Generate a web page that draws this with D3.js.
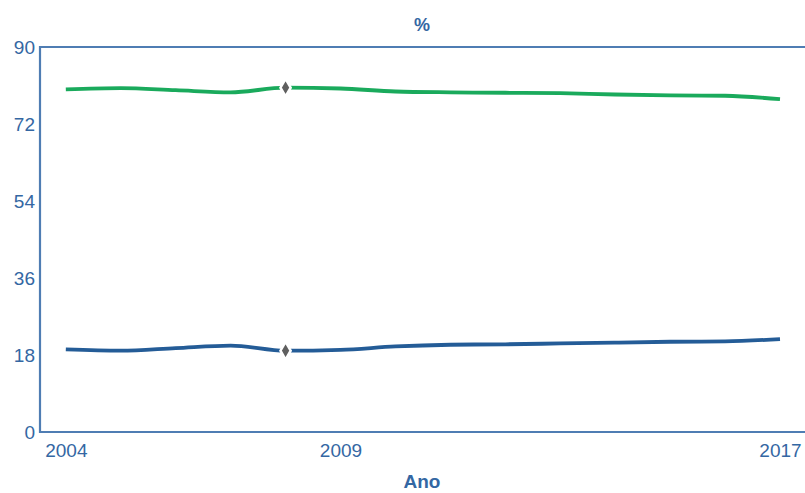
<!DOCTYPE html>
<html>
<head>
<meta charset="utf-8">
<script src="https://cdn.jsdelivr.net/npm/d3@7"></script>
<style>
  html, body { margin: 0; padding: 0; background: #fff; }
  svg { display: block; font-family: "Liberation Sans", Arial, sans-serif; }
</style>
</head>
<body>
<svg id="chart" width="805" height="493"></svg>
<script>
const years = [2004, 2005, 2006, 2007, 2008, 2009, 2010, 2011, 2012, 2013, 2014, 2015, 2016, 2017];
const greenValues = [80.1, 80.4, 79.9, 79.4, 80.5, 80.3, 79.6, 79.4, 79.3, 79.2, 78.9, 78.7, 78.6, 77.8];
const blueValues  = [19.3, 19.0, 19.6, 20.2, 19.0, 19.2, 20.0, 20.4, 20.5, 20.7, 20.9, 21.1, 21.2, 21.7];
const markerYear = 2008;
const xTickLabels = [2004, 2009, 2017];
const yTickLabels = [0, 18, 36, 54, 72, 90];

const svg = d3.select("#chart");
const margin = { left: 40, top: 47, right: 0, bottom: 61 };
const W = 805, H = 493;
const axisColor = "#4f7db3";
const textColor = "#3467a3";

const x = d3.scaleLinear().domain([2003.53, 2017]).range([margin.left, 780]);
const y = d3.scaleLinear().domain([0, 90]).range([H - margin.bottom, margin.top]);

// frame: left and top lines, bottom axis
svg.append("path")
  .attr("d", `M${W},${y(90)}H${margin.left}V${y(0)}H${W}`)
  .attr("fill", "none").attr("stroke", axisColor).attr("stroke-width", 2.2);

// y axis labels
const yAxis = d3.axisLeft(y).tickValues(yTickLabels).tickSize(0).tickPadding(4).tickFormat(d3.format("d"));
svg.append("g").attr("transform", `translate(${margin.left - 1},0)`).call(yAxis)
  .call(s => s.select(".domain").remove())
  .call(s => s.selectAll("text").attr("fill", textColor).attr("font-size", 19)
    .attr("font-family", "'Liberation Sans', Arial, sans-serif"));

// x axis labels
const xAxis = d3.axisBottom(x).tickValues(xTickLabels).tickSize(0).tickPadding(12).tickFormat(d3.format("d"));
svg.append("g").attr("transform", `translate(0,${y(0)})`).call(xAxis)
  .call(s => s.select(".domain").remove())
  .call(s => s.selectAll("text").attr("fill", textColor).attr("font-size", 19)
    .attr("font-family", "'Liberation Sans', Arial, sans-serif"));

// titles
svg.append("text").attr("x", 422).attr("y", 31).attr("text-anchor", "middle")
  .attr("fill", textColor).attr("font-size", 18).attr("font-weight", "bold").text("%");
svg.append("text").attr("x", 422).attr("y", 488).attr("text-anchor", "middle")
  .attr("fill", textColor).attr("font-size", 19).attr("font-weight", "bold").text("Ano");

const line = d3.line().x(d => x(d[0])).y(d => y(d[1])).curve(d3.curveMonotoneX);

const series = [
  { values: greenValues, color: "#1aaa5c" },
  { values: blueValues, color: "#245c97" }
];

series.forEach(s => {
  const pts = years.map((yr, i) => [yr, s.values[i]]);
  svg.append("path").datum(pts).attr("d", line)
    .attr("fill", "none").attr("stroke", s.color).attr("stroke-width", 3.8)
    .attr("stroke-linejoin", "round").attr("stroke-linecap", "butt");
  const mi = years.indexOf(markerYear);
  const mx = x(markerYear), my = y(s.values[mi]);
  svg.append("path")
    .attr("d", d3.symbol().type(d3.symbolDiamond).size(90)())
    .attr("transform", `translate(${mx},${my})`)
    .attr("fill", "#5f5f5f").attr("stroke", "#fff").attr("stroke-width", 2.5);
});
</script>
</body>
</html>
